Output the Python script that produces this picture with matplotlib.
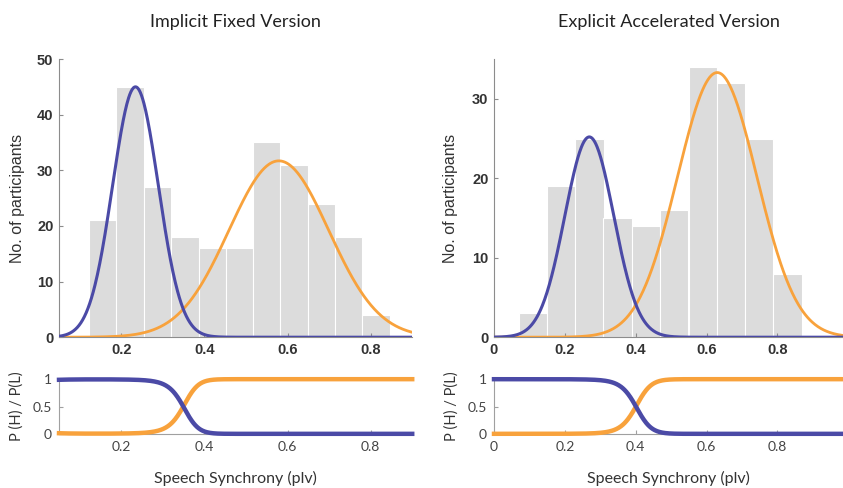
import numpy as np
import matplotlib
matplotlib.use("Agg")
import matplotlib.pyplot as plt

# histogram data (bin left edges, bin width, counts)
fixed_edges = [0.122, 0.188, 0.254, 0.320, 0.386, 0.452, 0.517, 0.583, 0.648, 0.714, 0.780]
fixed_width = 0.066
fixed_counts = [21, 45, 27, 18, 16, 16, 35, 31, 24, 18, 4]

accel_edges = [0.071, 0.150, 0.230, 0.309, 0.389, 0.468, 0.549, 0.629, 0.708, 0.788]
accel_width = 0.080
accel_counts = [3, 19, 25, 15, 14, 16, 34, 32, 25, 8]

# gaussian fits: [peak, mean, sigma] for low (blue) and high (orange)
fixed_low = [45.0, 0.234, 0.055]
fixed_high = [31.7, 0.579, 0.120]
accel_low = [25.2, 0.269, 0.069]
accel_high = [33.3, 0.630, 0.112]

titles = ["Implicit Fixed Version", "Explicit Accelerated Version"]
xlims = [(0.05, 0.9), (0.0, 0.985)]
ylims = [(0, 50), (0, 35)]
xticks_top = [[0.2, 0.4, 0.6, 0.8], [0, 0.2, 0.4, 0.6, 0.8]]
yticks_top = [[0, 10, 20, 30, 40, 50], [0, 10, 20, 30]]

BLUE = "#4b4aa6"
ORANGE = "#f8a23c"
GREY = "#dcdcdc"
SPINE = "#8c8c8c"
NARROW = ["Lato", "DejaVu Sans"]


def gauss(x, p):
    return p[0] * np.exp(-(x - p[1]) ** 2 / (2 * p[2] ** 2))


def fmt(v):
    return "0" if v == 0 else ("%g" % v)


fig = plt.figure(figsize=(8.43, 4.88), dpi=100)
plt.rcParams['font.family'] = ['Liberation Sans', 'DejaVu Sans']

tops = [fig.add_axes([0.070, 0.309, 0.419, 0.570]),
        fig.add_axes([0.586, 0.309, 0.414, 0.570])]
bots = [fig.add_axes([0.070, 0.111, 0.419, 0.112]),
        fig.add_axes([0.586, 0.111, 0.414, 0.112])]

data = [(fixed_edges, fixed_width, fixed_counts, fixed_low, fixed_high),
        (accel_edges, accel_width, accel_counts, accel_low, accel_high)]

for i, (edges, w, counts, low, high) in enumerate(data):
    ax = tops[i]
    ax.bar(edges, counts, width=w, align="edge", color=GREY,
           edgecolor="white", linewidth=0.8, zorder=1)
    x = np.linspace(xlims[i][0], xlims[i][1], 600)
    ax.plot(x, gauss(x, high), color=ORANGE, lw=2.0, zorder=3)
    ax.plot(x, gauss(x, low), color=BLUE, lw=2.2, zorder=3)
    ax.set_xlim(*xlims[i])
    ax.set_ylim(*ylims[i])
    ax.set_xticks(xticks_top[i])
    ax.set_xticklabels([fmt(v) for v in xticks_top[i]])
    ax.set_yticks(yticks_top[i])
    ax.set_ylabel("No. of participants", fontsize=11.5, color="#333333")
    ax.yaxis.set_label_coords(-0.097 if i == 0 else -0.103, 0.5)
    ax.set_title(titles[i], family=NARROW, fontsize=13, color="#222222", pad=23)
    for s in ["top", "right"]:
        ax.spines[s].set_visible(False)
    for s in ["left", "bottom"]:
        ax.spines[s].set_color(SPINE)
        ax.spines[s].set_linewidth(0.8)
    ax.tick_params(direction="in", length=3, color=SPINE, labelsize=10.5,
                   labelcolor="#222222", pad=4)
    for lab in ax.get_xticklabels() + ax.get_yticklabels():
        lab.set_fontweight("bold")
        lab.set_color("#333333")

    # posterior probability panels
    bx = bots[i]
    nl = gauss(x, low)
    nh = gauss(x, high)
    bx.plot(x, nh / (nl + nh), color=ORANGE, lw=3.2, zorder=3, clip_on=False)
    bx.plot(x, nl / (nl + nh), color=BLUE, lw=3.2, zorder=3, clip_on=False)
    bx.set_xlim(*xlims[i])
    bx.set_ylim(0, 1)
    bx.set_yticks([0, 0.5, 1])
    bx.set_yticklabels(["0", "0.5", "1"], family=NARROW)
    bx.set_xticks(xticks_top[i])
    bx.set_xticklabels([fmt(v) for v in xticks_top[i]], family=NARROW)
    for s in ["top", "right"]:
        bx.spines[s].set_visible(False)
    for s in ["left", "bottom"]:
        bx.spines[s].set_color("#a0a0a0")
        bx.spines[s].set_linewidth(0.8)
    bx.tick_params(direction="in", length=3, color="#a0a0a0", labelsize=10,
                   labelcolor="#444444", pad=5)
    bx.set_ylabel("P (H) / P(L)", family=NARROW, fontsize=10.5, color="#333333")
    bx.yaxis.set_label_coords(-0.100 if i == 0 else -0.100, 0.5)
    bx.set_xlabel("Speech Synchrony (plv)", family=NARROW, fontsize=11.5,
                  color="#333333")
    bx.xaxis.set_label_coords(0.5, -0.68)

fig.savefig("out.png", dpi=100)
